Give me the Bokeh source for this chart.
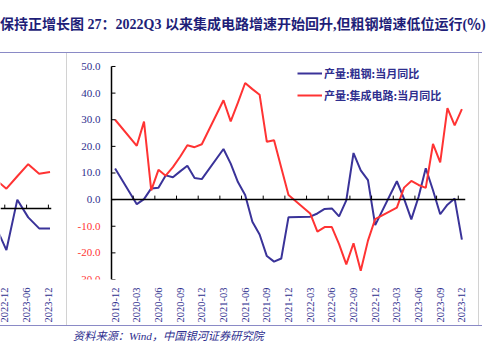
from math import pi
from bokeh.plotting import figure
from bokeh.models import Range1d, FixedTicker, Span, ColumnDataSource, LabelSet, Div
from bokeh.layouts import row, column
from bokeh.embed import file_html
from bokeh.resources import INLINE

# ---------------- data: main chart (图 27) ----------------
months = ["2019-12",
          "2020-03", "2020-04", "2020-05", "2020-06", "2020-07", "2020-08", "2020-09", "2020-10", "2020-11", "2020-12",
          "2021-03", "2021-04", "2021-05", "2021-06", "2021-07", "2021-08", "2021-09", "2021-10", "2021-11", "2021-12",
          "2022-03", "2022-04", "2022-05", "2022-06", "2022-07", "2022-08", "2022-09", "2022-10", "2022-11", "2022-12",
          "2023-03", "2023-04", "2023-05", "2023-06", "2023-07", "2023-08", "2023-09", "2023-10", "2023-11", "2023-12"]
steel = [11.7,
         -1.7, 0.2, 4.2, 4.5, 9.1, 8.4, 10.6, 12.7, 8.1, 7.7,
         19.0, 13.5, 6.6, 1.7, -8.3, -13.1, -21.2, -23.3, -22.1, -6.6,
         -6.4, -5.2, -3.5, -3.3, -6.3, -0.3, 17.5, 11.0, 7.3, -9.6,
         6.9, 0.3, -7.4, 1.0, 11.8, 3.5, -5.5, -1.9, 0.4, -15.0]
ic = [30.0,
      20.2, 29.3, 3.5, 11.2, 9.0, 12.2, 16.1, 20.4, 19.7, 20.8,
      37.3, 29.4, 36.4, 43.8, 41.5, 39.4, 21.7, 22.3, 12.0, 1.7,
      -5.2, -12.0, -10.3, -10.3, -16.7, -24.3, -16.4, -26.7, -15.4, -7.3,
      -3.0, 4.5, 7.0, 5.5, 4.4, 20.9, 14.0, 34.4, 27.9, 34.0]
tick_labels = ["2019-12", "2020-03", "2020-06", "2020-09", "2020-12", "2021-03", "2021-06",
               "2021-09", "2021-12", "2022-03", "2022-06", "2022-09", "2022-12", "2023-03",
               "2023-06", "2023-09", "2023-12"]
y_ticks = [-30, -20, -10, 0, 10, 20, 30, 40, 50]
steel_name = "产量:粗钢:当月同比"
ic_name = "产量:集成电路:当月同比"

# ---------------- data: neighbouring chart (cut off at left) ----------------
left_quarters = ["2022-09", "2022-12", "2023-03", "2023-06", "2023-09", "2023-12"]
left_red = [8.2, 5.6, 9.1, 12.5, 9.8, 10.3]
left_blue = [-4.9, -11.7, 2.5, -2.5, -5.6, -5.6]
left_tick_labels = ["2022-12", "2023-06", "2023-12"]

title_text = "保持正增长图 27：2022Q3 以来集成电路增速开始回升,但粗钢增速低位运行(％)"
source_text = "资料来源：Wind，中国银河证券研究院"

# ---------------- styling ----------------
NAVY = "#2E2E8E"
BLUE = "#3A3399"
RED = "#FF3333"
SERIF = "Liberation Serif"
CJK = "Noto Sans CJK SC"


def midx(s):
    y, m = s.split("-")
    return (int(y) - 2019) * 12 + int(m) - 12


def style_date_axis(fig, ticks, labels):
    ax = fig.xaxis
    ax.ticker = FixedTicker(ticks=ticks)
    ax.major_label_overrides = {t: s for t, s in zip(ticks, labels)}
    ax.major_label_orientation = pi / 2
    ax.axis_line_color = None
    ax.major_tick_line_color = None
    ax.minor_tick_line_color = None
    ax.major_tick_in = 0
    ax.major_tick_out = 0
    ax.major_label_standoff = 8
    ax.major_label_text_font = SERIF
    ax.major_label_text_font_size = "10.5px"
    ax.major_label_text_color = NAVY


# ---------------- main figure ----------------
x_end = midx(tick_labels[-1]) + 1          # 49 months shown
x_start = -5.537                            # room for the y tick labels inside the frame
y_lo, y_hi = min(y_ticks), max(y_ticks)
xs = [midx(s) + 0.5 for s in months]
p = figure(width=411, height=272, x_range=Range1d(x_start, x_end),
           y_range=Range1d(y_lo, y_hi + 4.5), y_axis_location=None,
           output_backend="svg", toolbar_location=None,
           min_border_left=4, min_border_right=13, min_border_top=1, min_border_bottom=46,
           outline_line_color=None, background_fill_color="white", border_fill_color="white",
           margin=0)
p.grid.visible = False

p.line(xs, steel, line_width=2, color=BLUE, legend_label=steel_name)
p.line(xs, ic, line_width=2, color=RED, legend_label=ic_name)

# zero line with upward ticks
p.segment(x0=[0], y0=[0], x1=[x_end], y1=[0], line_color="black", line_width=1.5)
zt = [midx(s) for s in tick_labels]
p.segment(x0=zt, y0=[0] * len(zt), x1=zt, y1=[1.5] * len(zt), line_color="black", line_width=1)

# value axis at the first month: line, inward ticks, coloured labels
p.segment(x0=[0], y0=[y_lo], x1=[0], y1=[y_hi], line_color="black", line_width=1.5)
p.segment(x0=[0] * len(y_ticks), y0=y_ticks, x1=[0.55] * len(y_ticks), y1=y_ticks,
          line_color="black", line_width=1)
ysrc = ColumnDataSource(dict(x=[0] * len(y_ticks), y=y_ticks,
                             t=["%.1f" % v for v in y_ticks],
                             c=[NAVY if v >= 0 else RED for v in y_ticks]))
p.add_layout(LabelSet(x="x", y="y", text="t", source=ysrc, x_offset=-11,
                      text_align="right", text_baseline="middle", text_color="c",
                      text_font=SERIF, text_font_size="11px"))

style_date_axis(p, [midx(s) + 0.5 for s in tick_labels], tick_labels)

lg = p.legend[0]
lg.location = (226, 174)
lg.border_line_color = None
lg.background_fill_alpha = 0
lg.padding = 0
lg.margin = 0
lg.spacing = 2
lg.glyph_width = 25
lg.glyph_height = 20
lg.label_height = 20
lg.label_standoff = 2
lg.label_text_font = CJK
lg.label_text_font_size = "11px"
lg.label_text_font_style = "bold"
lg.label_text_color = NAVY

# ---------------- left fragment figure ----------------
q0 = midx("2022-12")
lq = [(midx(s) - q0) / 3 for s in left_quarters]
a = figure(width=66, height=272, x_range=Range1d(-0.542, 4.135), y_range=Range1d(-20, 43.4),
           y_axis_location=None, output_backend="svg", toolbar_location=None,
           min_border_left=0, min_border_right=15, min_border_top=1, min_border_bottom=46,
           outline_line_color=None, background_fill_color="white", border_fill_color="white",
           margin=0)
a.grid.visible = False
a.line(lq, left_red, line_width=2, color=RED)
a.line(lq, left_blue, line_width=2, color=BLUE)
a.add_layout(Span(location=0, dimension="width", line_color="black", line_width=1.5))
lt = [(midx(s) - q0) / 3 - 0.15 for s in left_tick_labels]
a.segment(x0=lt, y0=[0] * len(lt), x1=lt, y1=[1.1] * len(lt), line_color="black", line_width=1)
style_date_axis(a, lt, left_tick_labels)

# ---------------- page furniture ----------------
title = Div(text=title_text, width=494, height=52, margin=0,
            styles={"font-family": "'Liberation Serif','Noto Sans CJK SC',serif",
                    "font-size": "14px", "font-weight": "bold", "color": "#1E1E78",
                    "line-height": "50px", "white-space": "nowrap", "overflow": "hidden"})
rule_top = Div(text="", width=482, height=1, margin=0, styles={"background-color": "#8A8AC6"})
rule_bot = Div(text="", width=482, height=1, margin=0, styles={"background-color": "#8A8AC6"})
vline1 = Div(text="", width=1, height=272, margin=0, styles={"background-color": "#D2D2D2"})
vline2 = Div(text="", width=1, height=272, margin=0, styles={"background-color": "#D2D2D2"})
filler = Div(text="", width=15, height=272, margin=0)
source = Div(text=source_text, width=494, height=20, margin=0,
             styles={"font-family": "'Liberation Serif','Noto Sans CJK SC',serif",
                     "font-size": "11.2px", "font-style": "italic", "color": NAVY,
                     "line-height": "20px", "text-indent": "73px", "white-space": "nowrap"})

layout = column(title, rule_top, row(a, vline1, p, vline2, filler, spacing=0), rule_bot, source,
                spacing=0)

open("out.html", "w").write(file_html(layout, INLINE))
